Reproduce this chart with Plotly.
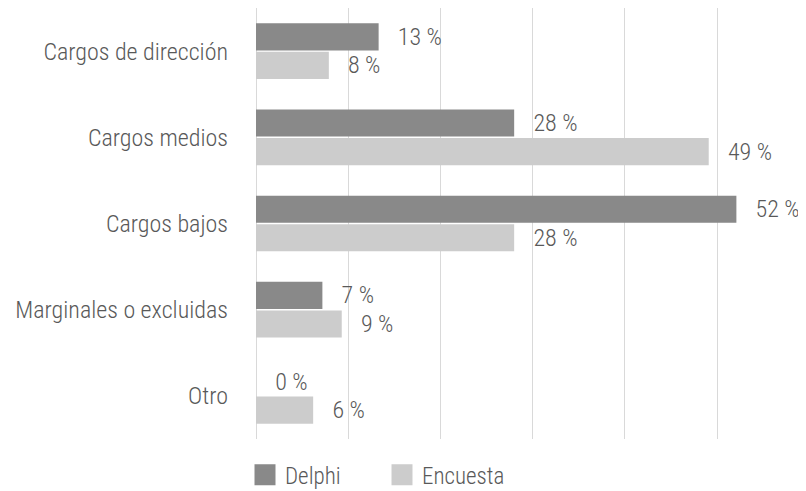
import plotly.graph_objects as go

categories = ["Cargos de dirección", "Cargos medios", "Cargos bajos",
              "Marginales o excluidas", "Otro"]
delphi = [13.3, 28.0, 52.1, 7.2, 0.0]
encuesta = [7.9, 49.1, 28.0, 9.3, 6.2]
series_names = ["Delphi", "Encuesta"]

FONT = "Roboto Condensed, Liberation Sans Narrow, DejaVu Sans Condensed, sans-serif"
FS = 24
TXT = "#595959"
C_D = "#898989"
C_E = "#cccccc"

fig = go.Figure()
for name, vals, col in [(series_names[0], delphi, C_D),
                        (series_names[1], encuesta, C_E)]:
    fig.add_trace(go.Bar(
        y=categories, x=vals, name=name, orientation="h",
        marker=dict(color=col, line=dict(width=0)),
        texttemplate="\u00a0\u00a0\u00a0%{x:.0f} %",
        textposition="outside", constraintext="none", cliponaxis=False,
        textfont=dict(family=FONT, size=FS, color=TXT, weight=300),
        showlegend=False, hoverinfo="skip",
    ))
# legend swatches (large squares)
for name, col in [(series_names[0], C_D), (series_names[1], C_E)]:
    fig.add_trace(go.Scatter(
        x=[None], y=[None], name=name, mode="markers",
        marker=dict(symbol="square", size=16, color=col, line=dict(width=5, color=col)),
        showlegend=True, hoverinfo="skip",
    ))

# page body adds an 8px margin, so the figure is 8px smaller
fig.update_layout(
    width=798, height=483,
    margin=dict(l=248, r=0, t=0, b=52, autoexpand=False),
    paper_bgcolor="white", plot_bgcolor="white",
    barmode="group", bargap=0.337, bargroupgap=0.05,
    font=dict(family=FONT, size=FS, color=TXT, weight=300),
    legend=dict(orientation="h", x=-0.02, xanchor="left", y=-0.083, yanchor="middle",
                entrywidth=92, entrywidthmode="pixels", itemsizing="trace",
                font=dict(family=FONT, size=23, color=TXT, weight=300),
                traceorder="normal"),
    xaxis=dict(range=[0, 59.65], dtick=10, showticklabels=False,
               showgrid=True, gridcolor="#d9d9d9", gridwidth=1,
               zeroline=True, zerolinecolor="#d9d9d9", zerolinewidth=1,
               showline=False, fixedrange=True, automargin=False),
    yaxis=dict(autorange="reversed", showgrid=False, showline=False,
               ticks="", ticklabelstandoff=27, automargin=False,
               tickfont=dict(family=FONT, size=FS, color=TXT, weight=300)),
)

fig.write_html("out.html")
